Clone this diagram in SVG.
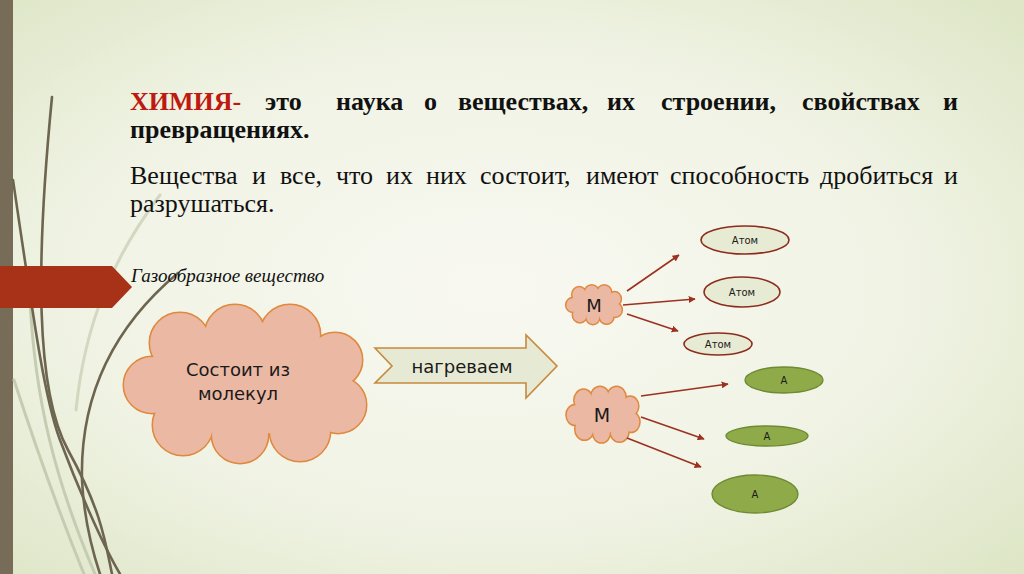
<svg xmlns="http://www.w3.org/2000/svg" xmlns:xlink="http://www.w3.org/1999/xlink" width="1024" height="574" viewBox="0 0 1024 574">
<defs>
  <radialGradient id="bg" cx="0.48" cy="0.5" r="0.75">
    <stop offset="0" stop-color="#f8f8f1"/>
    <stop offset="0.55" stop-color="#f0f3e4"/>
    <stop offset="1" stop-color="#dbe4c2"/>
  </radialGradient>
  <marker id="ah" viewBox="0 0 10 10" refX="9" refY="5" markerWidth="7" markerHeight="7" orient="auto" markerUnits="userSpaceOnUse">
    <path d="M0,0 L10,5 L0,10 z" fill="#9c3120"/>
  </marker>
  <g id="cloudShape">
    <circle cx="-65" cy="-42" r="30" vector-effect="non-scaling-stroke"/>
    <circle cx="-10" cy="-50" r="30" vector-effect="non-scaling-stroke"/>
    <circle cx="45" cy="-50" r="30" vector-effect="non-scaling-stroke"/>
    <circle cx="90" cy="-25" r="27" vector-effect="non-scaling-stroke"/>
    <circle cx="93" cy="20" r="28" vector-effect="non-scaling-stroke"/>
    <circle cx="55" cy="46" r="30" vector-effect="non-scaling-stroke"/>
    <circle cx="-5" cy="50" r="28" vector-effect="non-scaling-stroke"/>
    <circle cx="-62" cy="40" r="30" vector-effect="non-scaling-stroke"/>
    <circle cx="-93" cy="0" r="28" vector-effect="non-scaling-stroke"/>
    <ellipse cx="0" cy="0" rx="90" ry="50" vector-effect="non-scaling-stroke"/>
  </g>
</defs>
<style>
  .serif { font-family: "Liberation Serif", "Times New Roman", serif; fill: #111; }
  .b { font-weight: bold; font-size: 26px; }
  .r { font-size: 26px; }
  .red { fill: #be1a10; }
  .sans { font-family: "DejaVu Sans", "Liberation Sans", sans-serif; fill: #1a1a1a; }
  .cl-o { fill: none; stroke: #e0883c; stroke-width: 3; }
  .cl-f { fill: #eab8a3; stroke: none; }
  .atom { fill: #e7ebd4; stroke: #8c2c1c; stroke-width: 1.6; }
  .green { fill: #8fab49; stroke: #6e8a33; stroke-width: 1.4; }
  .conn { stroke: #9c3120; stroke-width: 1.6; fill: none; marker-end: url(#ah); }
  .grass { fill: none; stroke: #6e6550; stroke-width: 2.6; stroke-linecap: round; }
  .grass-l { fill: none; stroke: #c6ccb2; stroke-width: 3; stroke-linecap: round; }
</style>

<!-- background -->
<rect x="0" y="0" width="1024" height="574" fill="url(#bg)"/>
<rect x="0" y="0" width="13" height="574" fill="#766c57"/>

<!-- decorative grass -->
<g id="decor">
  <path class="grass-l" d="M14,380 C40,460 62,520 84,574"/>
  <path class="grass-l" d="M30,300 C35,400 55,480 95,574" stroke-width="2"/>
  <path class="grass-l" d="M160,195 C115,255 85,320 76,410" stroke-width="1.3" opacity="0.7"/>
  <path class="grass" d="M52,97 C36,260 35,390 68,450 S105,540 112,574" stroke-width="2"/>
  <path class="grass" d="M13,180 C35,330 45,400 60,440 S100,540 120,574"/>
  <path class="grass" d="M178,273 C110,330 80,400 82,480 C84,520 92,550 100,574"/>
  <polygon points="0,266 112,266 132,287 112,308 0,308" fill="#a83218"/>
</g>

<!-- title text -->
<g id="title">
  <text class="serif b red" x="130" y="110">ХИМИЯ-</text>
  <text class="serif b" x="265" y="110">это</text>
  <text class="serif b" x="336" y="110">наука</text>
  <text class="serif b" x="424" y="110">о</text>
  <text class="serif b" x="458" y="110">веществах,</text>
  <text class="serif b" x="607" y="110">их</text>
  <text class="serif b" x="661" y="110">строении,</text>
  <text class="serif b" x="802" y="110">свойствах</text>
  <text class="serif b" x="958" y="110" text-anchor="end">и</text>
  <text class="serif b" x="130" y="138">превращениях.</text>
</g>
<g id="para">
  <text class="serif r" x="130" y="184">Вещества</text>
  <text class="serif r" x="252" y="184">и</text>
  <text class="serif r" x="280" y="184">все,</text>
  <text class="serif r" x="336" y="184">что</text>
  <text class="serif r" x="386" y="184">их</text>
  <text class="serif r" x="426" y="184">них</text>
  <text class="serif r" x="480" y="184">состоит,</text>
  <text class="serif r" x="586" y="184">имеют</text>
  <text class="serif r" x="670" y="184">способность</text>
  <text class="serif r" x="820" y="184">дробиться</text>
  <text class="serif r" x="958" y="184" text-anchor="end">и</text>
  <text class="serif r" x="130" y="212">разрушаться.</text>
</g>
<text class="serif" x="131" y="282" font-size="19" font-style="italic">Газообразное вещество</text>

<!-- big cloud -->
<g id="gas-cloud">
  <use href="#cloudShape" class="cl-o" transform="translate(245,385)"/>
  <use href="#cloudShape" class="cl-f" transform="translate(245,385)"/>
  <text class="sans" x="238" y="376" font-size="18" text-anchor="middle">Состоит из</text>
  <text class="sans" x="238" y="400" font-size="18" text-anchor="middle">молекул</text>
</g>

<!-- heating arrow -->
<g id="heat-arrow">
  <polygon points="375,348 526,348 526,335 557,366 526,398 526,383 375,383 392,366" fill="#e6e9d3" stroke="#c8893c" stroke-width="1.6"/>
  <text class="sans" x="462" y="373" font-size="18" text-anchor="middle">нагреваем</text>
</g>

<!-- molecules -->
<g id="molecule1">
  <use href="#cloudShape" class="cl-o" stroke-width="2.4" transform="translate(594,305) scale(0.228,0.245)"/>
  <use href="#cloudShape" class="cl-f" transform="translate(594,305) scale(0.228,0.245)"/>
  <text class="sans" x="594" y="312" font-size="18" text-anchor="middle">М</text>
</g>
<g id="molecule2">
  <use href="#cloudShape" class="cl-o" stroke-width="2.4" transform="translate(603,415) scale(0.30,0.35)"/>
  <use href="#cloudShape" class="cl-f" transform="translate(603,415) scale(0.30,0.35)"/>
  <text class="sans" x="602" y="422" font-size="19" text-anchor="middle">М</text>
</g>

<!-- atoms -->
<g id="atom1"><ellipse class="atom" cx="745" cy="240" rx="44" ry="14"/><text class="sans" x="745" y="244" font-size="10" text-anchor="middle">Атом</text></g>
<g id="atom2"><ellipse class="atom" cx="742" cy="292" rx="38" ry="15"/><text class="sans" x="742" y="296" font-size="10" text-anchor="middle">Атом</text></g>
<g id="atom3"><ellipse class="atom" cx="718" cy="344" rx="34" ry="11"/><text class="sans" x="718" y="348" font-size="10" text-anchor="middle">Атом</text></g>

<g id="a1"><ellipse class="green" cx="784" cy="380" rx="39" ry="13"/><text class="sans" x="784" y="384" font-size="10" text-anchor="middle">А</text></g>
<g id="a2"><ellipse class="green" cx="767" cy="436" rx="41" ry="10"/><text class="sans" x="767" y="440" font-size="10" text-anchor="middle">А</text></g>
<g id="a3"><ellipse class="green" cx="755" cy="494" rx="43" ry="19"/><text class="sans" x="755" y="498" font-size="10" text-anchor="middle">А</text></g>

<!-- connectors -->
<g id="connectors">
  <line class="conn" x1="627" y1="291" x2="679" y2="255"/>
  <line class="conn" x1="623" y1="305" x2="695" y2="299"/>
  <line class="conn" x1="627" y1="314" x2="678" y2="331"/>
  <line class="conn" x1="641" y1="396" x2="728" y2="384"/>
  <line class="conn" x1="641" y1="417" x2="704" y2="439"/>
  <line class="conn" x1="627" y1="438" x2="701" y2="467"/>
</g>
</svg>
